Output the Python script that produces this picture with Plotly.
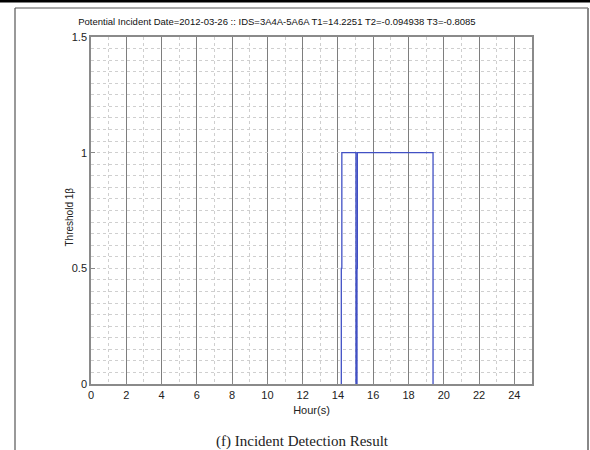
import plotly.graph_objects as go

# Detection flag around the incident (step changes, hours)
hours = [14.19, 14.19, 14.22, 15.02, 15.08, 15.10, 19.39]
threshold = [0, 0.5, 1, 0, 0.5, 1, 0]

x_ticks = list(range(0, 25, 2))
y_ticks = [0, 0.5, 1, 1.5]

title_text = "Potential Incident Date=2012-03-26 :: IDS=3A4A-5A6A T1=14.2251 T2=-0.094938 T3=-0.8085"
caption_text = "(f) Incident Detection Result"

W, H = 590, 450
L, R, T, B = 91, 58, 37, 66
PW, PH = W - L - R, H - T - B


def px(xp):
    return (xp - L) / PW


def py(yp):
    return 1 - (yp - T) / PH


fig = go.Figure()
fig.add_trace(go.Scatter(
    x=hours, y=threshold, mode="lines", line_shape="hv",
    line=dict(color="#4150c4", width=1.3), showlegend=False, hoverinfo="skip",
))

sans = "Liberation Sans, Arial, sans-serif"

fig.update_layout(
    width=W, height=H,
    margin=dict(l=L, r=R, t=T, b=B),
    paper_bgcolor="white", plot_bgcolor="white",
    xaxis=dict(
        range=[0, 25], tickvals=x_ticks, ticks="inside", ticklen=4,
        tickcolor="#888", showline=True, linecolor="#8a8a8a", linewidth=1.5,
        mirror=True, showgrid=True, gridcolor="#7e7e7e", gridwidth=1.3,
        zeroline=False, tickfont=dict(family=sans, size=11, color="#222"),
        minor=dict(dtick=1, showgrid=True, gridcolor="#cfcfcf", griddash="dot", gridwidth=1),
        title=dict(text="Hour(s)", font=dict(family=sans, size=11, color="#222"), standoff=6),
    ),
    yaxis=dict(
        range=[0, 1.5], tickvals=y_ticks, ticktext=["0", "0.5", "1", "1.5"],
        ticks="inside", ticklen=4, tickcolor="#888",
        showline=True, linecolor="#8a8a8a", linewidth=1.5, mirror=True,
        showgrid=True, gridcolor="#cfcfcf", griddash="dot", gridwidth=1,
        zeroline=False, tickfont=dict(family=sans, size=11, color="#222"),
        minor=dict(dtick=0.05, showgrid=True, gridcolor="#cfcfcf", griddash="dot", gridwidth=1),
    ),
    title=dict(text=title_text, x=px(298), xanchor="center", y=1 - 22 / H, yanchor="middle",
               font=dict(family=sans, size=9.5, color="#111")),
)

# y-axis label
fig.add_annotation(text="Threshold 1β", textangle=-90, x=px(61), y=py(217),
                   xref="paper", yref="paper", showarrow=False,
                   font=dict(family=sans, size=10, color="#222"))

# caption below the figure
fig.add_annotation(text=caption_text, x=px(302), y=py(441), xref="paper", yref="paper",
                   showarrow=False, yanchor="middle",
                   font=dict(family="Liberation Serif, DejaVu Serif, serif", size=15, color="#222"))

# page frame
fig.add_shape(type="rect", xref="paper", yref="paper", x0=px(0), x1=px(W), y0=py(0), y1=py(2.5),
              fillcolor="black", line=dict(width=0), layer="above")
fig.add_shape(type="line", xref="paper", yref="paper", x0=px(15), x1=px(15), y0=py(8), y1=py(H),
              line=dict(color="#555", width=1.2))
fig.add_shape(type="line", xref="paper", yref="paper", x0=px(15), x1=px(588), y0=py(8), y1=py(8),
              line=dict(color="#555", width=1.2))
fig.add_shape(type="line", xref="paper", yref="paper", x0=px(588), x1=px(588), y0=py(8), y1=py(H),
              line=dict(color="#888", width=2))

fig.write_html("out.html")
